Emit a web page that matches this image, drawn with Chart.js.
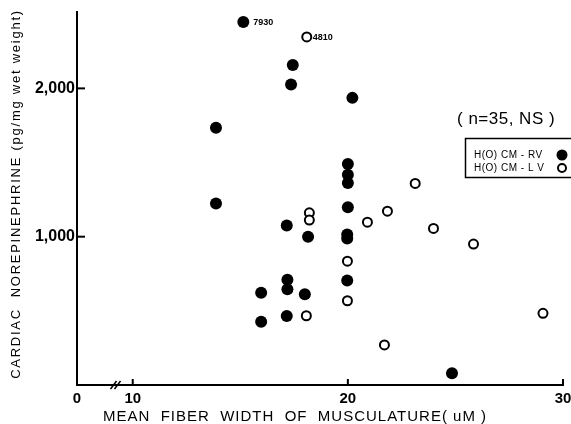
<!DOCTYPE html>
<html>
<head>
<meta charset="utf-8">
<script src="https://cdn.jsdelivr.net/npm/chart.js@4/dist/chart.umd.min.js"></script>
<style>
html, body { margin: 0; padding: 0; background: #fff; }
</style>
</head>
<body>
<canvas id="myChart" width="571" height="424"></canvas>
<script>
// H(O) CM - RV (filled circles)
var rvX = [15.14, 17.44, 17.36, 13.87, 13.87, 17.16, 17.19, 17.19, 17.16, 15.97, 15.97,
           20.21, 20.0, 20.0, 20.0, 20.0, 18.15, 19.97, 19.97, 19.97, 18.0, 24.84];
var rvY = [2448, 2158, 2026, 1734, 1224, 1076, 710, 645, 466, 622, 427,
           1936, 1490, 1418, 1362, 1198, 999, 1015, 988, 705, 612, 79];
// H(O) CM - LV (open circles)
var lvX = [18.09, 18.21, 18.21, 20.91, 21.84, 23.13, 23.98, 25.84, 19.98, 19.98, 18.07, 21.70, 29.07];
var lvY = [2347, 1161, 1112, 1098, 1172, 1359, 1056, 950, 835, 568, 467, 270, 483];

// off-scale values written beside the first point of each series
var rvNote = "7930";
var lvNote = "4810";

var xTickLabels = [0, 10, 20, 30];
var yTickValues = [1000, 2000];
var xZero = 7.41;   // broken axis: "0" sits here
var xBreak = 9.2;

function pts(xs, ys) {
  return xs.map(function (x, i) { return {x: x, y: ys[i]}; });
}

var extras = {
  id: "extras",
  afterDraw: function (chart) {
    var ctx = chart.ctx;
    var xs = chart.scales.x, ys = chart.scales.y;
    var a = chart.chartArea;
    ctx.save();
    ctx.strokeStyle = "#000";
    ctx.fillStyle = "#000";
    ctx.lineWidth = 2;
    // inner tick marks
    yTickValues.forEach(function (v) {
      var py = ys.getPixelForValue(v);
      ctx.beginPath(); ctx.moveTo(a.left, py); ctx.lineTo(a.left + 8, py); ctx.stroke();
    });
    [10, 20, 30].forEach(function (v) {
      var px = xs.getPixelForValue(v);
      ctx.beginPath(); ctx.moveTo(px, a.bottom); ctx.lineTo(px, a.bottom - 6); ctx.stroke();
    });
    // axis break
    var bx = xs.getPixelForValue(xBreak);
    ctx.lineWidth = 1.5;
    [-2, 2].forEach(function (d) {
      ctx.beginPath();
      ctx.moveTo(bx + d - 3, a.bottom + 4);
      ctx.lineTo(bx + d + 3, a.bottom - 4);
      ctx.stroke();
    });

    // off-scale notes
    ctx.font = "bold 9px 'Liberation Sans'";
    ctx.textBaseline = "middle";
    ctx.textAlign = "left";
    ctx.fillText(rvNote, xs.getPixelForValue(rvX[0]) + 10, ys.getPixelForValue(rvY[0]) + 1);
    ctx.fillText(lvNote, xs.getPixelForValue(lvX[0]) + 6, ys.getPixelForValue(lvY[0]) + 1);

    // axis titles
    ctx.font = "13px 'Liberation Sans'";
    ctx.letterSpacing = "1.75px";
    ctx.textAlign = "center";
    ctx.save();
    ctx.translate(16, 194);
    ctx.rotate(-Math.PI / 2);
    ctx.fillText("CARDIAC  NOREPINEPHRINE (pg/mg wet weight)", 0, 0);
    ctx.restore();
    ctx.font = "15px 'Liberation Sans'";
    ctx.letterSpacing = "1px";
    ctx.textAlign = "left";
    ctx.fillText("MEAN  FIBER  WIDTH  OF  MUSCULATURE( uM )", 103, 417);

    // n label
    ctx.letterSpacing = "0.5px";
    ctx.font = "17px 'Liberation Sans'";
    ctx.fillText("( n=35, NS )", 457, 119);

    // legend box
    ctx.letterSpacing = "0.5px";
    ctx.lineWidth = 1.5;
    ctx.strokeRect(465.5, 138.5, 120, 39);
    ctx.font = "10px 'Liberation Sans'";
    ctx.fillText("H(O) CM - RV", 474, 155);
    ctx.fillText("H(O) CM - L V", 474, 168);
    ctx.beginPath(); ctx.arc(562, 155, 5.5, 0, Math.PI * 2); ctx.fill();
    ctx.lineWidth = 2;
    ctx.beginPath(); ctx.arc(562, 168, 4, 0, Math.PI * 2); ctx.stroke();
    ctx.restore();
  }
};

new Chart("myChart", {
  type: "scatter",
  data: {
    datasets: [{
      label: "H(O) CM-RV",
      data: pts(rvX, rvY),
      backgroundColor: "#000",
      borderColor: "#000",
      borderWidth: 0,
      pointRadius: 6
    }, {
      label: "H(O) CM-LV",
      data: pts(lvX, lvY),
      backgroundColor: "#fff",
      borderColor: "#000",
      borderWidth: 2,
      pointRadius: 4.5
    }]
  },
  options: {
    responsive: false,
    animation: false,
    devicePixelRatio: 1,
    layout: {padding: {top: 12, right: 8, left: 0, bottom: 0}},
    plugins: {legend: {display: false}, tooltip: {enabled: false}},
    scales: {
      x: {
        type: "linear",
        min: xZero,
        max: 30,
        afterBuildTicks: function (s) {
          s.ticks = [{value: xZero}, {value: 10}, {value: 20}, {value: 30}];
        },
        afterFit: function (s) { s.height = 39; s.paddingRight = 0; s.paddingLeft = 0; },
        grid: {display: false, drawTicks: false},
        border: {display: true, color: "#000", width: 2},
        ticks: {
          color: "#000",
          padding: 5,
          maxRotation: 0,
          autoSkip: false,
          font: {family: "Liberation Sans", size: 15, weight: "bold"},
          callback: function (v) { return v === xZero ? String(xTickLabels[0]) : String(v); }
        }
      },
      y: {
        min: 0,
        max: 2515,
        afterBuildTicks: function (s) {
          s.ticks = yTickValues.map(function (v) { return {value: v}; });
        },
        afterFit: function (s) { s.width = 77; },
        grid: {display: false, drawTicks: false},
        border: {display: true, color: "#000", width: 2},
        ticks: {
          color: "#000",
          padding: 2,
          font: {family: "Liberation Sans", size: 16, weight: "bold"},
          callback: function (v) { return v.toLocaleString("en-US"); }
        }
      }
    }
  },
  plugins: [extras]
});
</script>
</body>
</html>
